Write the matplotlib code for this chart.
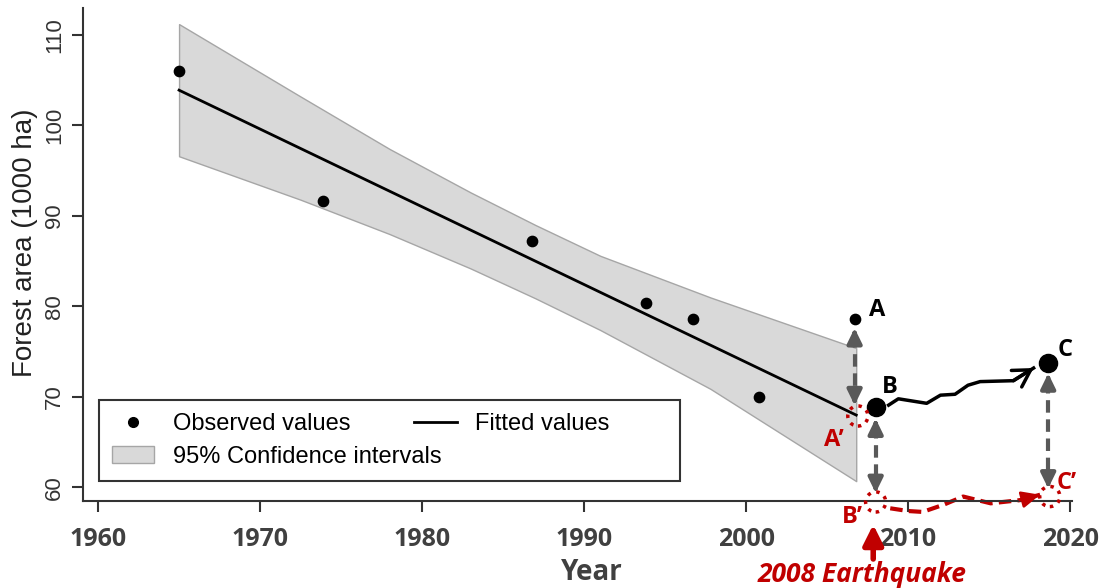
import matplotlib.pyplot as plt
from matplotlib.lines import Line2D
from matplotlib.patches import Patch

# observed forest area (1000 ha)
obs_year = [1965.0, 1973.9, 1986.8, 1993.8, 1996.75, 2000.8, 2006.7]
obs_area = [106.0, 91.7, 87.2, 80.4, 78.6, 70.0, 78.6]

# fitted line and 95% band
fit_year = [1965.0, 2006.8]
fit_area = [103.9, 68.0]
ci_year = [1965.0, 1972.5, 1978.0, 1983.0, 1987.0, 1991.0, 1997.8, 2006.8]
ci_upper = [111.2, 103.2, 97.4, 92.6, 89.0, 85.6, 81.0, 75.4]
ci_lower = [96.6, 91.8, 88.0, 84.2, 80.9, 77.4, 70.9, 60.7]

# annotation points
a_year, a_area = 2006.7, 78.6
ap_year, ap_area = 2006.9, 67.9
b_year, b_area = 2008.0, 68.9
bp_year, bp_area = 2008.0, 58.4
c_year, c_area = 2018.65, 73.75
cp_year, cp_area = 2018.75, 59.0

# hand drawn paths B -> C and B' -> C'
wave_year = [2008.8, 2009.4, 2010.1, 2011.15, 2012.0, 2012.9, 2013.7, 2014.45, 2016.5, 2017.75]
wave_area = [69.1, 69.8, 69.6, 69.3, 70.2, 70.3, 71.3, 71.7, 71.8, 73.2]
red_year = [2008.9, 2010.0, 2010.9, 2012.2, 2013.4, 2014.3, 2015.1, 2016.9, 2018.15]
red_area = [57.7, 57.4, 57.3, 58.1, 59.0, 58.6, 58.25, 58.6, 59.2]

x_ticks = [1960, 1970, 1980, 1990, 2000, 2010, 2020]
y_ticks = [60, 70, 80, 90, 100, 110]

RED = '#c00000'
GRAY = '#595959'
DARK = '#404040'

fig = plt.figure(figsize=(11.07, 5.88), dpi=100)
ax = fig.add_axes([83 / 1107, 87.3 / 588, 989 / 1107, 492.7 / 588])

ax.fill_between(ci_year, ci_lower, ci_upper, facecolor='#d9d9d9', edgecolor='#a6a6a6', lw=1)
ax.plot(fit_year, fit_area, color='black', lw=2)
ax.scatter(obs_year, obs_area, s=55, color='black', zorder=3)

ax.set_xlim(1959.07, 2020.12)
ax.set_ylim(58.54, 112.98)
ax.set_xticks(x_ticks)
ax.set_yticks(y_ticks)
for s in ['top', 'right']:
    ax.spines[s].set_visible(False)
for s in ['left', 'bottom']:
    ax.spines[s].set_color('#333333')
    ax.spines[s].set_linewidth(1.5)
ax.tick_params(length=8, width=1.5, color='#333333')
ax.tick_params(axis='x', pad=11)
ax.tick_params(axis='y', pad=5)
for lab in ax.get_xticklabels():
    lab.set_fontfamily('Open Sans')
    lab.set_fontweight('bold')
    lab.set_fontsize(18)
    lab.set_color(DARK)
for lab in ax.get_yticklabels():
    lab.set_fontfamily('Liberation Sans')
    lab.set_fontsize(16)
    lab.set_color('#333333')
    lab.set_rotation(90)
    lab.set_va('center')

ax.set_xlabel('Year', fontfamily='Open Sans', fontweight='bold', fontsize=20, color=DARK)
ax.xaxis.set_label_coords((592 - 83) / 989, -0.117)
fig.text(25 / 1107, 1 - 243 / 588, 'Forest area (1000 ha)', rotation=90, ha='center', va='center',
         fontfamily='Liberation Sans', fontsize=20, color='#222222')

# legend: box with observed + CI, fitted values placed on the first row
obs_h = Line2D([], [], marker='o', color='black', ls='none', markersize=7)
ci_h = Patch(facecolor='#d9d9d9', edgecolor='#a6a6a6')
fit_h = Line2D([], [], color='black', lw=2)
leg = ax.legend([obs_h, ci_h], ['Observed values', '95% Confidence intervals'], loc='lower left',
                bbox_to_anchor=(0.016, 0.04, 0.588, 0.16), mode='expand',
                prop={'family': 'Liberation Sans', 'size': 17}, fancybox=False,
                edgecolor='#333333', framealpha=1, handlelength=1.8, borderaxespad=0,
                labelspacing=0.45, borderpad=0.55)
leg.get_frame().set_linewidth(1.5)
ax.add_artist(leg)
leg2 = ax.legend([fit_h], ['Fitted values'], loc='center left',
                 bbox_to_anchor=((414 - 83) / 989, (500.7 - 424) / 492.7),
                 prop={'family': 'Liberation Sans', 'size': 17}, frameon=False,
                 handlelength=1.8, borderaxespad=0, borderpad=0)

# big dots B and C
ax.scatter([b_year, c_year], [b_area, c_area], s=170, color='black', zorder=5, clip_on=False)
# dotted circles A', B', C'
ax.scatter([ap_year, bp_year, cp_year], [ap_area, bp_area, cp_area], s=210, facecolor='none',
           edgecolor=RED, linewidths=2.5, linestyles=':', zorder=5, clip_on=False)


def head(x, y, dy, color, lw=3):
    ax.annotate('', xy=(x, y), xytext=(x, y + dy), annotation_clip=False,
                arrowprops=dict(arrowstyle='-|>,head_length=0.45,head_width=0.22', color=color,
                                lw=lw, shrinkA=0, shrinkB=0, mutation_scale=20))


def double_arrow(x, y_top, y_bot):
    ax.plot([x, x], [y_top - 0.8, y_bot + 0.8], color=GRAY, lw=3, dashes=(3, 1.6), clip_on=False)
    head(x, y_top, -0.9, GRAY)
    head(x, y_bot, 0.9, GRAY)


double_arrow(a_year, 77.6, 69.1)
double_arrow(b_year, 67.6, 59.4)
double_arrow(c_year, 72.6, 59.9)

# B -> C wavy arrow
ax.plot(wave_year, wave_area, color='black', lw=2.5, clip_on=False)
ax.annotate('', xy=(wave_year[-1], wave_area[-1]), xytext=(wave_year[-2], wave_area[-2]),
            annotation_clip=False,
            arrowprops=dict(arrowstyle='->,head_length=0.6,head_width=0.35', color='black', lw=2.5,
                            shrinkA=0, shrinkB=0, mutation_scale=20))

# B' -> C' dashed red path
ax.plot(red_year, red_area, color=RED, lw=3, dashes=(3, 1.5), clip_on=False)
ax.annotate('', xy=(red_year[-1], red_area[-1]), xytext=(red_year[-2], red_area[-2]),
            annotation_clip=False,
            arrowprops=dict(arrowstyle='-|>,head_length=0.55,head_width=0.25', color=RED, lw=2,
                            shrinkA=0, shrinkB=0, mutation_scale=20))

# point labels
lab_kw = dict(fontfamily='Open Sans', fontweight='bold', fontsize=17, ha='center', va='center',
              clip_on=False)
ax.text(2008.1, 79.6, 'A', color='black', **lab_kw)
ax.text(2008.9, 71.1, 'B', color='black', **lab_kw)
ax.text(2019.7, 75.2, 'C', color='black', **lab_kw)
ax.text(2005.45, 65.2, 'A\u2019', color=RED, **lab_kw)
ax.text(2006.55, 56.7, 'B\u2019', color=RED, **lab_kw)
ax.text(2019.8, 60.55, 'C\u2019', color=RED, **lab_kw)

# earthquake marker
ax.annotate('', xy=(2007.85, 55.9), xytext=(2007.85, 52.1), annotation_clip=False,
            arrowprops=dict(arrowstyle='-|>,head_length=0.6,head_width=0.3', color=RED, lw=4,
                            shrinkA=0, shrinkB=0, mutation_scale=20))
ax.text(2007.15, 50.4, '2008 Earthquake', color=RED, fontfamily='Open Sans', fontweight='bold',
        fontstyle='italic', fontsize=19, ha='center', va='center', clip_on=False)

fig.savefig('out.png', dpi=100)
